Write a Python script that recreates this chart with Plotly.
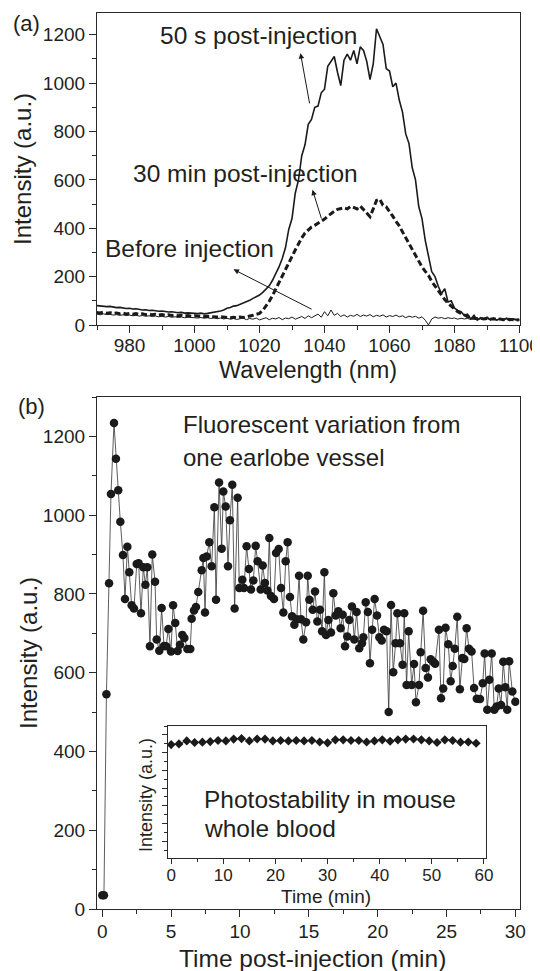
import plotly.graph_objects as go

# ---------------- data ----------------
wavelength_nm = list(range(970, 1101))

spec_50s = [80, 78, 79, 76, 77, 74, 72, 73, 70, 68, 69, 66, 67, 64, 62, 63, 60, 61, 58, 57,
            58, 55, 54, 55, 52, 51, 52, 49, 50, 48, 48, 47, 49, 46, 48, 50, 52, 55, 58, 62,
            69, 72, 78, 80, 85, 90, 96, 102, 110, 116, 124, 135, 148, 162, 185, 212, 240, 275, 320, 395,
            440, 545, 600, 700, 745, 830, 850, 900, 905, 960, 975, 1070, 1090, 1110, 1045, 990, 1095, 1120, 1095, 1135,
            1080, 1150, 1135, 1090, 1015, 1080, 1225, 1195, 1160, 1060, 1050, 985, 1000, 930, 880, 790, 750, 650, 600, 490,
            440, 350, 280, 220, 200, 160, 130, 150, 95, 100, 70, 60, 55, 40, 45, 25, 40, 20, 30, 25,
            32, 22, 28, 20, 26, 22, 28, 18, 25, 22, 20]

spec_30min = [52, 50, 53, 49, 51, 48, 50, 47, 49, 46, 48, 45, 47, 44, 46, 43, 45, 42, 44, 41,
              43, 40, 42, 39, 41, 38, 40, 37, 39, 36, 38, 36, 37, 35, 36, 34, 35, 33, 34, 32,
              33, 30, 32, 30, 33, 31, 34, 36, 40, 44, 48, 60, 78, 98, 122, 150, 175, 205, 230, 258,
              283, 310, 338, 360, 380, 393, 405, 412, 420, 430, 438, 450, 462, 470, 478, 482, 485, 480, 490, 486,
              480, 492, 478, 465, 448, 480, 515, 520, 495, 488, 470, 450, 428, 410, 385, 360, 340, 312, 290, 265,
              240, 222, 205, 180, 160, 140, 120, 105, 90, 78, 65, 55, 48, 40, 35, 30, 28, 26, 28, 25,
              27, 24, 26, 23, 25, 22, 24, 22, 23, 21, 22]

spec_before = [45, 42, 46, 43, 44, 41, 43, 40, 42, 39, 41, 38, 40, 37, 39, 36, 38, 35, 37, 34,
               36, 33, 35, 32, 34, 31, 33, 30, 32, 30, 31, 29, 31, 28, 30, 27, 30, 26, 29, 25,
               28, 24, 27, 23, 26, 28, 22, 27, 24, 29, 21, 26, 30, 22, 28, 25, 31, 22, 29, 26,
               33, 24, 30, 35, 27, 38, 30, 36, 45, 32, 55, 38, 62, 40, 48, 35, 42, 33, 40, 36,
               44, 35, 41, 37, 43, 34, 40, 36, 42, 33, 39, 35, 41, 34, 38, 30, 37, 32, 36, 28,
               34, 20, 0, 25, 33, 28, 31, 26, 30, 27, 29, 24, 28, 25, 27, 23, 26, 22, 25, 23,
               26, 22, 25, 21, 24, 22, 25, 21, 23, 20, 22]

time_min = [0, 0.12, 0.3, 0.49, 0.63, 0.85, 0.99, 1.16, 1.31, 1.5, 1.65, 1.82, 1.96, 2.13, 2.3,
            2.5, 2.64, 2.81, 2.98, 3.13, 3.27, 3.46, 3.63, 3.83, 3.95, 4.14, 4.31, 4.48, 4.63, 4.8,
            4.99, 5.14, 5.3, 5.47, 5.64, 5.81, 5.96, 6.18, 6.39, 6.49, 6.66, 6.8, 6.97, 7.22, 7.34,
            7.46, 7.58, 7.77, 7.94, 8.14, 8.26, 8.48, 8.67, 8.79, 8.96, 9.13, 9.27, 9.44, 9.61, 9.83,
            9.95, 10.17, 10.29, 10.48, 10.65, 10.8, 10.97, 11.14, 11.28, 11.5, 11.65, 11.81, 11.99, 12.13, 12.25,
            12.47, 12.62, 12.81, 12.98, 13.15, 13.32, 13.46, 13.63, 13.78, 13.95, 14.12, 14.29, 14.43, 14.6, 14.8,
            14.92, 15.04, 15.28, 15.45, 15.62, 15.81, 15.96, 16.13, 16.25, 16.42, 16.61, 16.78, 16.95, 17.14, 17.31,
            17.46, 17.63, 17.79, 17.94, 18.13, 18.3, 18.47, 18.66, 18.86, 18.96, 19.13, 19.29, 19.44, 19.6, 19.78,
            19.95, 20.12, 20.29, 20.46, 20.65, 20.8, 20.97, 21.13, 21.3, 21.43, 21.62, 21.81, 21.93, 22.1, 22.25,
            22.47, 22.64, 22.78, 23.0, 23.12, 23.3, 23.48, 23.65, 23.85, 24.04, 24.17, 24.45, 24.6, 24.76, 24.93,
            25.13, 25.3, 25.45, 25.6, 25.78, 25.97, 26.15, 26.29, 26.46, 26.63, 26.82, 27.0, 27.2, 27.43, 27.63,
            27.77, 27.96, 28.11, 28.28, 28.47, 28.64, 28.79, 28.96, 29.12, 29.27, 29.41, 29.55, 29.78, 30.0]

vessel_intensity = [35, 35, 545, 827, 1054, 1234, 1143, 1063, 983, 899, 787, 920, 855, 771, 763,
                    876, 878, 751, 868, 823, 868, 667, 900, 831, 684, 656, 764, 668, 667, 711,
                    654, 771, 726, 655, 671, 696, 688, 660, 660, 737, 758, 767, 805, 860, 891,
                    753, 895, 931, 870, 1020, 785, 1083, 915, 1060, 1022, 870, 987, 1077, 763, 1044,
                    815, 836, 815, 921, 863, 811, 834, 922, 883, 811, 872, 828, 809, 942, 795,
                    787, 904, 914, 815, 753, 883, 931, 792, 743, 722, 736, 846, 736, 684, 728,
                    846, 785, 760, 806, 730, 760, 705, 855, 696, 734, 702, 802, 745, 756, 713,
                    747, 667, 692, 734, 768, 684, 754, 662, 675, 690, 779, 754, 624, 709, 787,
                    745, 690, 682, 709, 705, 500, 772, 601, 675, 751, 675, 620, 751, 569, 705,
                    569, 622, 525, 569, 652, 757, 612, 588, 634, 628, 623, 709, 535, 560, 714,
                    672, 578, 617, 661, 742, 558, 637, 635, 713, 661, 654, 561, 534, 533, 573,
                    649, 506, 582, 649, 506, 514, 560, 518, 628, 563, 506, 629, 552, 526]

inset_time_min = [0, 1.5, 3, 4.5, 6, 7.5, 9, 10.5, 12, 13.5, 15, 16.5, 18, 19.5, 21, 22.5, 24, 25.5, 27, 28.5,
                  30, 31.5, 33, 34.5, 36, 37.5, 39, 40.5, 42, 43.5, 45, 46.5, 48, 49.5, 51, 52.5, 54, 55.5, 57, 58.5]
inset_intensity = [6.45, 6.49, 6.66, 6.57, 6.59, 6.62, 6.68, 6.66, 6.76, 6.79, 6.66, 6.77, 6.76, 6.66, 6.68,
                   6.66, 6.68, 6.66, 6.68, 6.60, 6.55, 6.72, 6.72, 6.68, 6.68, 6.60, 6.66, 6.72, 6.64, 6.72,
                   6.76, 6.77, 6.72, 6.66, 6.57, 6.72, 6.68, 6.59, 6.60, 6.53]

# ---------------- layout helpers ----------------
PAGE_W, PAGE_H = 540, 971
OFF = 8  # default body margin of the written page
W, H = PAGE_W - OFF, PAGE_H - OFF
FONT = "Liberation Sans, Arial, Helvetica, sans-serif"
INK = "#231f20"


def fx(p):
    return (p - OFF) / W


def fy(p):
    return 1 - (p - OFF) / H


fig = go.Figure()

# panel (a) spectra
fig.add_trace(go.Scatter(x=wavelength_nm, y=spec_before, mode="lines",
                         line=dict(color="#1a1a1a", width=1), xaxis="x", yaxis="y"))
fig.add_trace(go.Scatter(x=wavelength_nm, y=spec_30min, mode="lines",
                         line=dict(color="#1a1a1a", width=3, dash="6px,3px"), xaxis="x", yaxis="y"))
fig.add_trace(go.Scatter(x=wavelength_nm, y=spec_50s, mode="lines",
                         line=dict(color="#1a1a1a", width=1.6), xaxis="x", yaxis="y"))

# panel (b) time course
fig.add_trace(go.Scatter(x=time_min, y=vessel_intensity, mode="lines+markers",
                         line=dict(color="#333333", width=0.8),
                         marker=dict(symbol="circle", size=8.5, color="#1a1a1a"),
                         xaxis="x2", yaxis="y2"))

# inset
fig.add_trace(go.Scatter(x=inset_time_min, y=inset_intensity, mode="lines+markers",
                         line=dict(color="#333333", width=0.8),
                         marker=dict(symbol="diamond", size=7, color="#1a1a1a"),
                         xaxis="x3", yaxis="y3"))


def axis(domain, rng, dtick, minor_dtick, anchor, ticklen=7, fsize=19, showlabels=True,
         tick0=0, standoff=0):
    return dict(domain=domain, range=rng, anchor=anchor, autorange=False,
                showline=True, linecolor="#2a2a2a", linewidth=1.2, mirror=True,
                ticks="outside", ticklen=ticklen, tickwidth=1, tickcolor="#2a2a2a",
                dtick=dtick, tick0=tick0, showticklabels=showlabels,
                ticklabelstandoff=standoff,
                tickfont=dict(family=FONT, size=fsize, color=INK),
                minor=dict(dtick=minor_dtick, tick0=tick0, ticks="outside", ticklen=ticklen * 0.55,
                           tickcolor="#2a2a2a", tickwidth=1, showgrid=False),
                showgrid=False, zeroline=False, automargin=False, fixedrange=True)


xdom = [fx(97), fx(519.5)]
fig.update_layout(
    width=W, height=H,
    margin=dict(l=0, r=0, t=0, b=0),
    paper_bgcolor="white", plot_bgcolor="white",
    showlegend=False,
    font=dict(family=FONT, color=INK),
    xaxis=axis(xdom, [970, 1100], 20, 10, "y", tick0=980, standoff=-4),
    yaxis=axis([fy(325), fy(13)], [0, 1290], 200, 100, "x"),
    xaxis2=axis(xdom, [-0.385, 30.3], 5, 2.5, "y2", standoff=-2),
    yaxis2=axis([fy(909), fy(397)], [0, 1300], 200, 100, "x2"),
    xaxis3=axis([fx(168), fx(485.5)], [-0.6, 60.3], 10, 5, "y3", ticklen=5, fsize=17, standoff=-3),
    yaxis3=axis([fy(857.7), fy(726)], [0.07, 7.5], 1, 0.5, "x3", ticklen=5, showlabels=False),
)

ann = []


def text(s, x, y, size, angle=0, xanchor="center"):
    ann.append(dict(text=s, x=x, y=y, xref="paper", yref="paper", showarrow=False,
                    xanchor=xanchor, yanchor="middle", textangle=angle,
                    font=dict(family=FONT, size=size, color=INK)))


def arrow(hx, hy, tx, ty, xr, yr):
    ann.append(dict(text="", x=hx, y=hy, ax=tx, ay=ty, xref=xr, yref=yr, axref=xr, ayref=yr,
                    showarrow=True, arrowhead=2, arrowsize=1.1, arrowwidth=1, arrowcolor="#1a1a1a"))


# panel labels
text("(a)", fx(26), fy(23), 22)
text("(b)", fx(31), fy(407), 22)

# axis titles
text("Wavelength (nm)", fx(308), fy(370), 23.5)
text("Intensity (a.u.)", fx(22), fy(169), 24, angle=-90)
text("Time post-injection (min)", fx(312), fy(958), 24.5)
text("Intensity (a.u.)", fx(28), fy(653), 24, angle=-90)
text("Intensity (a.u.)", fx(146), fy(795), 18, angle=-90)
text("Time (min)", fx(326), fy(896), 19)

# panel (a) curve labels + arrows
text("50 s post-injection", fx(258), fy(35), 24.5)
text("30 min post-injection", fx(245), fy(173), 24.5)
text("Before injection", fx(189), fy(248), 24.5)
arrow(1032.6, 1124, 1035.5, 910, "x", "y")
arrow(1036.3, 559, 1039.2, 434, "x", "y")
arrow(1012.0, 230, 1036.5, 62, "x", "y")

# panel (b) texts
text("Fluorescent variation from", fx(181), fy(425), 24, xanchor="left")
text("one earlobe vessel", fx(181), fy(457), 24, xanchor="left")
text("Photostability in mouse", fx(202), fy(799), 24.5, xanchor="left")
text("whole blood", fx(202), fy(828), 24.5, xanchor="left")

fig.update_layout(annotations=ann)

fig.write_html("out.html")
